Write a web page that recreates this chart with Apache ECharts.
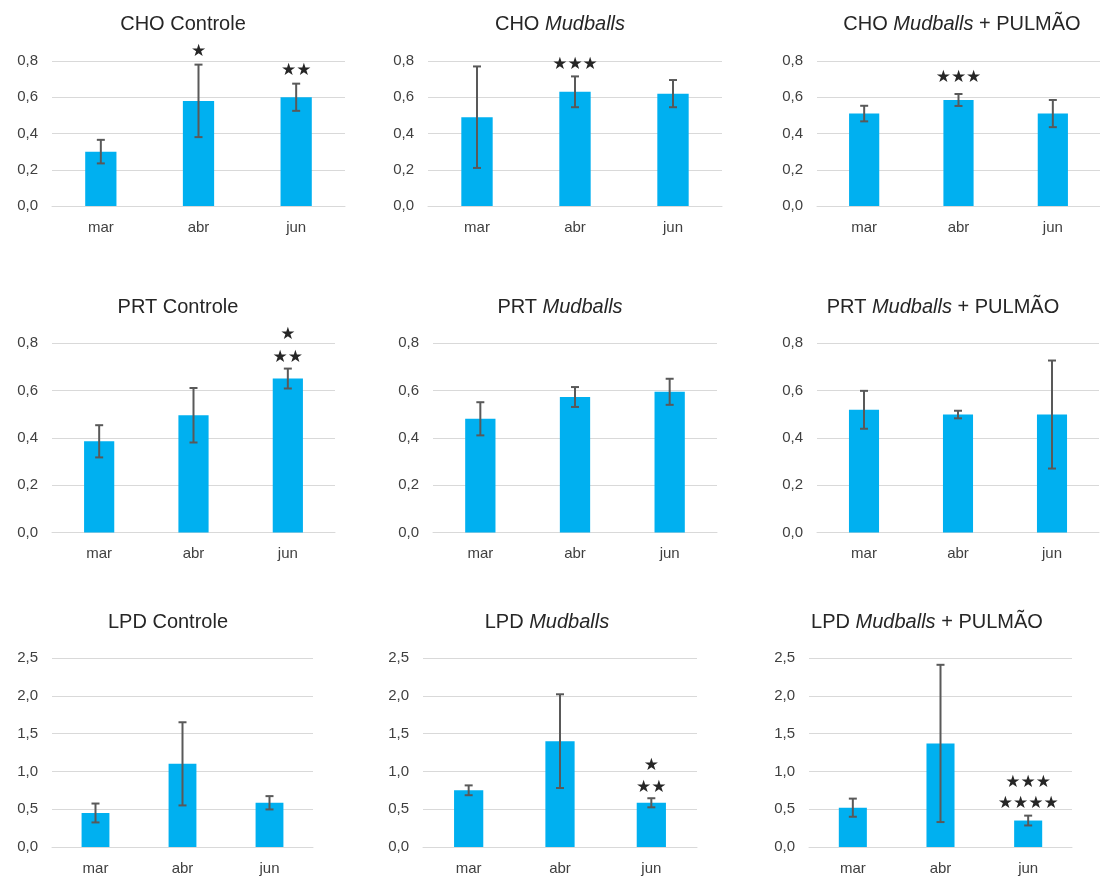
<!doctype html>
<html>
    <head>
        <meta charset="utf-8">
        <title>CHO / PRT / LPD</title>
        <style>
            html, body { margin: 0; padding: 0; background: #fff; }
            #main { width: 1100px; height: 876px; }
        </style>
    </head>
    <body>
        <div id="main"></div>
        <script src="https://cdn.jsdelivr.net/npm/echarts@6/dist/echarts.min.js"></script>
        <script>
            var months = ['mar', 'abr', 'jun'];

            // means and error (+/-) per panel
            var choControle = [0.30, 0.58, 0.60];
            var choControleErr = [0.065, 0.20, 0.075];
            var choMud = [0.49, 0.63, 0.62];
            var choMudErr = [0.28, 0.085, 0.075];
            var choMudPul = [0.51, 0.585, 0.51];
            var choMudPulErr = [0.043, 0.033, 0.075];

            var prtControle = [0.385, 0.495, 0.65];
            var prtControleErr = [0.068, 0.115, 0.042];
            var prtMud = [0.48, 0.572, 0.594];
            var prtMudErr = [0.07, 0.042, 0.055];
            var prtMudPul = [0.518, 0.498, 0.498];
            var prtMudPulErr = [0.08, 0.016, 0.228];

            var lpdControle = [0.45, 1.10, 0.585];
            var lpdControleErr = [0.125, 0.55, 0.088];
            var lpdMud = [0.75, 1.40, 0.585];
            var lpdMudErr = [0.065, 0.62, 0.06];
            var lpdMudPul = [0.52, 1.37, 0.35];
            var lpdMudPulErr = [0.12, 1.04, 0.065];

            // significance marks: [month index, y value, text]
            var choControleStars = [[1, 0.85, '★'], [2, 0.745, '★★']];
            var choMudStars = [[1, 0.778, '★★★']];
            var choMudPulStars = [[1, 0.706, '★★★']];
            var prtControleStars = [[2, 0.835, '★'], [2, 0.737, '★★']];
            var lpdMudStars = [[2, 1.076, '★'], [2, 0.784, '★★']];
            var lpdMudPulStars = [[2, 0.846, '★★★'], [2, 0.575, '★★★★']];

            var panels = [
                { pre: 'CHO', name: 'Controle', it: false, mean: choControle, err: choControleErr, stars: choControleStars,
                  grid: [52, 61, 293, 145], max: 0.8, step: 0.2, title: [183, 25] },
                { pre: 'CHO', name: 'Mudballs', it: true, mean: choMud, err: choMudErr, stars: choMudStars,
                  grid: [428, 61, 294, 145], max: 0.8, step: 0.2, title: [560, 25] },
                { pre: 'CHO', name: 'Mudballs', it: true, post: ' + PULMÃO', mean: choMudPul, err: choMudPulErr, stars: choMudPulStars,
                  grid: [817, 61, 294, 145], max: 0.8, step: 0.2, title: [962, 25] },
                { pre: 'PRT', name: 'Controle', it: false, mean: prtControle, err: prtControleErr, stars: prtControleStars,
                  grid: [52, 343, 283, 189.5], max: 0.8, step: 0.2, title: [178, 308] },
                { pre: 'PRT', name: 'Mudballs', it: true, mean: prtMud, err: prtMudErr, stars: [],
                  grid: [433, 343, 284, 189.5], max: 0.8, step: 0.2, title: [560, 308] },
                { pre: 'PRT', name: 'Mudballs', it: true, post: ' + PULMÃO', mean: prtMudPul, err: prtMudPulErr, stars: [],
                  grid: [817, 343, 282, 189.5], max: 0.8, step: 0.2, title: [943, 308] },
                { pre: 'LPD', name: 'Controle', it: false, mean: lpdControle, err: lpdControleErr, stars: [],
                  grid: [52, 658, 261, 191], max: 2.5, step: 0.5, title: [168, 623] },
                { pre: 'LPD', name: 'Mudballs', it: true, mean: lpdMud, err: lpdMudErr, stars: lpdMudStars,
                  grid: [423, 658, 274, 191], max: 2.5, step: 0.5, title: [547, 623] },
                { pre: 'LPD', name: 'Mudballs', it: true, post: ' + PULMÃO', mean: lpdMudPul, err: lpdMudPulErr, stars: lpdMudPulStars,
                  grid: [809, 658, 263, 191], max: 2.5, step: 0.5, title: [927, 623] }
            ];

            var textColor = '#404040';
            var titleFont = '"Liberation Sans", Arial, sans-serif';

            function renderError(params, api) {
                var lo = api.coord([api.value(0), api.value(1)]);
                var hi = api.coord([api.value(0), api.value(2)]);
                var cap = 4;
                var st = { stroke: '#595959', lineWidth: 2 };
                return {
                    type: 'group',
                    children: [
                        { type: 'line', shape: { x1: hi[0], y1: hi[1], x2: lo[0], y2: lo[1] }, style: st },
                        { type: 'line', shape: { x1: hi[0] - cap, y1: hi[1], x2: hi[0] + cap, y2: hi[1] }, style: st },
                        { type: 'line', shape: { x1: lo[0] - cap, y1: lo[1], x2: lo[0] + cap, y2: lo[1] }, style: st }
                    ]
                };
            }

            function starRenderer(stars) {
                return function (params, api) {
                    var p = api.coord([api.value(0), api.value(1)]);
                    return {
                        type: 'text',
                        x: p[0],
                        y: p[1],
                        style: {
                            text: stars[params.dataIndex][2],
                            fill: '#262626',
                            font: '17px "DejaVu Sans", sans-serif',
                            align: 'center',
                            verticalAlign: 'middle'
                        }
                    };
                };
            }

            var titles = [], grids = [], xAxes = [], yAxes = [], series = [];

            panels.forEach(function (p, i) {
                var txt = '{n|' + p.pre + ' }' + (p.it ? '{i|' + p.name + '}' : '{n|' + p.name + '}') + (p.post ? '{n|' + p.post + '}' : '');
                titles.push({
                    text: txt,
                    left: p.title[0],
                    top: p.title[1] - 11,
                    textAlign: 'center',
                    padding: 0,
                    textStyle: {
                        fontWeight: 'normal',
                        rich: {
                            n: { fontSize: 20, color: '#262626', fontFamily: titleFont, fontWeight: 'normal' },
                            i: { fontSize: 20, color: '#262626', fontFamily: titleFont, fontWeight: 'normal', fontStyle: 'italic' }
                        }
                    }
                });
                grids.push({ left: p.grid[0], top: p.grid[1], width: p.grid[2], height: p.grid[3] });
                xAxes.push({
                    type: 'category',
                    gridIndex: i,
                    data: months,
                    axisLine: { lineStyle: { color: '#d9d9d9' } },
                    axisTick: { show: false },
                    axisLabel: { color: textColor, fontSize: 15, margin: 14, fontFamily: 'Liberation Sans' }
                });
                yAxes.push({
                    type: 'value',
                    gridIndex: i,
                    min: 0,
                    max: p.max,
                    interval: p.step,
                    axisLine: { show: false },
                    axisTick: { show: false },
                    splitLine: { lineStyle: { color: '#d9d9d9' } },
                    axisLabel: {
                        color: textColor, fontSize: 15, margin: 14, fontFamily: 'Liberation Sans',
                        formatter: function (v) { return v.toFixed(1).replace('.', ','); }
                    }
                });
                series.push({
                    type: 'bar',
                    xAxisIndex: i,
                    yAxisIndex: i,
                    data: p.mean,
                    barWidth: '32%',
                    itemStyle: { color: '#00B0F0' },
                    silent: true
                });
                series.push({
                    type: 'custom',
                    xAxisIndex: i,
                    yAxisIndex: i,
                    renderItem: renderError,
                    data: p.mean.map(function (m, k) { return [k, m - p.err[k], m + p.err[k]]; }),
                    z: 5,
                    silent: true
                });
                if (p.stars.length) {
                    series.push({
                        type: 'custom',
                        xAxisIndex: i,
                        yAxisIndex: i,
                        renderItem: starRenderer(p.stars),
                        data: p.stars.map(function (s) { return [s[0], s[1]]; }),
                        clip: false,
                        z: 6,
                        silent: true
                    });
                }
            });

            var chart = echarts.init(document.getElementById('main'));
            chart.setOption({
                animation: false,
                backgroundColor: '#fff',
                title: titles,
                grid: grids,
                xAxis: xAxes,
                yAxis: yAxes,
                series: series
            });
        </script>
    </body>
</html>
